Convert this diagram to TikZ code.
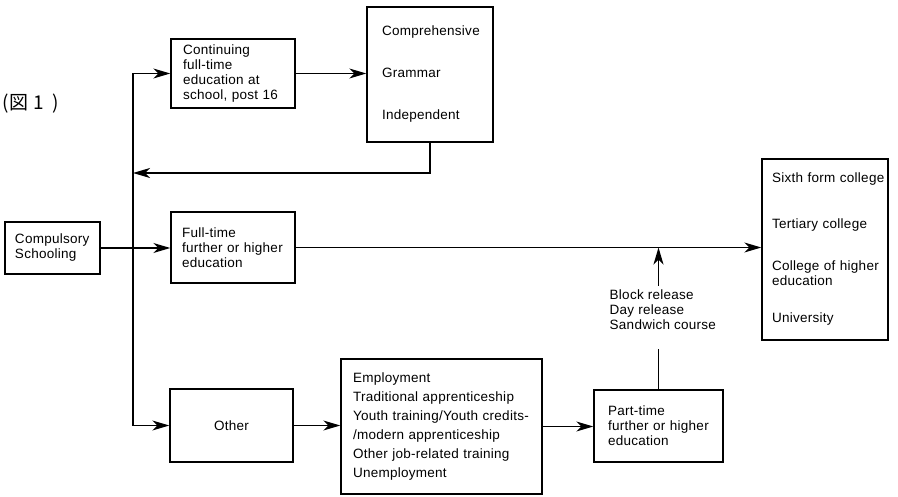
\documentclass[tikz,border=0pt]{standalone}
\usepackage{fontspec}
\setmainfont{Liberation Sans}[LetterSpace=2]
\newfontfamily\cjkfont{Noto Sans CJK JP}
\usetikzlibrary{arrows.meta, positioning}
\newcommand{\boxfont}{\fontsize{13.5}{15}\selectfont\hyphenpenalty=10000\relax\exhyphenpenalty=10000\relax}
\tikzset{
  txt/.style={font=\boxfont},
  box/.style={draw, align=left, inner ysep=0pt, txt},
  arr/.style={-{Stealth[length=17pt, width=10pt, inset=5pt]}},
}

\begin{document}
\begin{tikzpicture}[x=1pt, y=-1pt, line width=1.4pt]
            \useasboundingbox (0,0) rectangle (898,497);
            % Figure label
            \node[anchor=west, inner sep=0pt, font=\cjkfont\fontsize{19}{22}\selectfont] (figlabel) at (2,104) {(図\hspace{5pt}1\hspace{9pt})};

            % Boxes
            \node[box, minimum height=52pt, text width=75pt, inner xsep=10pt] (school) at (52.5,248) {Compulsory\\Schooling};
            \node[box, minimum height=69pt, text width=100pt, inner xsep=12pt] (cont) at (233,73.5) {Continuing\\full-time\\education at\\school, post 16};
            \node[box, minimum height=135pt, text width=96pt, inner xsep=15pt] (types) at (430,74.5) {Comprehensive\\[27pt]Grammar\\[27pt]Independent};
            \node[box, minimum height=71pt, text width=102pt, inner xsep=11pt] (ftfe) at (233,247.5) {Full-time\\further or higher\\education};
            \node[box, align=center, minimum height=73pt, text width=99pt, inner xsep=12pt] (other) at (231.5,425.5) {Other};
            \node[box, minimum height=135pt, text width=177pt, inner xsep=12pt] (jobs) at (441.5,426.5) {Employment\\[4pt]Traditional apprenticeship\\[4pt]Youth training/Youth credits-\\[4pt]/modern apprenticeship\\[4pt]Other job-related training\\[4pt]Unemployment};
            \node[box, minimum height=72pt, text width=101pt, inner xsep=14pt] (parttime) at (658.5,426) {Part-time\\further or higher\\education};
            \node[box, minimum height=181pt, text width=106pt, inner xsep=10pt] (colleges) at (825,249.5) {\mbox{Sixth form college}\\[31pt]Tertiary college\\[27pt]\mbox{College of higher}\\education\\[22pt]University};
            \node[txt, anchor=west, align=left, inner sep=0pt] (release) at (609,309.5) {Block release\\Day release\\Sandwich course};

            % Connectors
            \coordinate (split) at (133,248);
            \coordinate (back) at (133,173);
            \draw[arr] (school.east) -- (school.east -| ftfe.west);
            \draw (split |- cont) -- (split |- other);
            \draw[arr] (split |- cont) -- (cont);
            \draw[arr] (split |- other) -- (other);
            \draw[arr] (cont.east) -- (cont.east -| types.west);
            \draw[arr] (types.south) |- (back);
            \draw[arr] (ftfe.east) -- (ftfe.east -| colleges.west);
            \draw[arr] (other.east) -- (other.east -| jobs.west);
            \draw[arr] (jobs.east) -- (jobs.east -| parttime.west);
            \draw (parttime.north) -- ++(0,-40);
            \draw[arr] ([yshift=3pt]release.north -| parttime.north) -- (parttime.north |- ftfe.east);
        \end{tikzpicture}
\end{document}
